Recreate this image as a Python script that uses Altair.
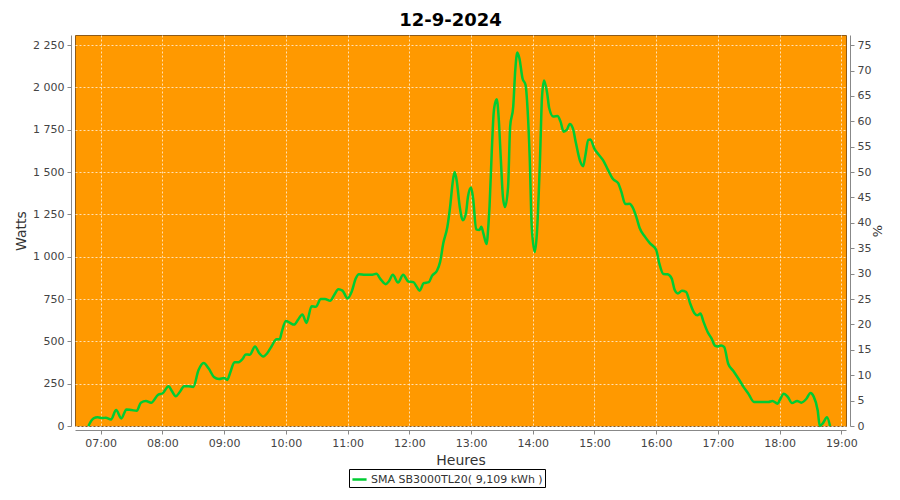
import altair as alt
import pandas as pd

# ---- data ----
times = [
    "06:48", "06:53", "06:57", "07:02", "07:05", "07:10", "07:15", "07:20", "07:25", "07:30",
    "07:35", "07:39", "07:44", "07:49", "07:56", "08:00", "08:06", "08:09", "08:13", "08:17",
    "08:21", "08:25", "08:30", "08:35", "08:40", "08:45", "08:50", "08:55", "09:00", "09:03",
    "09:06", "09:10", "09:14", "09:18", "09:21", "09:25", "09:30", "09:34", "09:38", "09:42",
    "09:46", "09:51", "09:54", "09:56", "10:00", "10:04", "10:08", "10:12", "10:16", "10:20",
    "10:25", "10:29", "10:34", "10:38", "10:43", "10:47", "10:51", "10:55", "11:00", "11:04",
    "11:08", "11:11", "11:17", "11:23", "11:28", "11:32", "11:37", "11:40", "11:44", "11:49",
    "11:54", "11:59", "12:04", "12:07", "12:10", "12:14", "12:19", "12:22", "12:27", "12:30",
    "12:33", "12:37", "12:40", "12:42", "12:44", "12:46", "12:49", "12:52", "12:55", "12:57",
    "13:00", "13:02", "13:05", "13:08", "13:10", "13:12", "13:15", "13:17", "13:18", "13:20",
    "13:22", "13:24", "13:25", "13:27", "13:29", "13:31", "13:33", "13:36", "13:38", "13:41",
    "13:43", "13:45", "13:47", "13:50", "13:53", "13:55", "13:57", "13:59", "14:02", "14:04",
    "14:07", "14:09", "14:11", "14:14", "14:16", "14:20", "14:24", "14:27", "14:30", "14:33",
    "14:36", "14:39", "14:42", "14:46", "14:49", "14:51", "14:54", "14:56", "15:00", "15:04",
    "15:09", "15:13", "15:18", "15:23", "15:26", "15:30", "15:34", "15:37", "15:41", "15:44",
    "15:49", "15:54", "16:00", "16:03", "16:07", "16:11", "16:15", "16:18", "16:21", "16:25",
    "16:29", "16:33", "16:37", "16:40", "16:43", "16:46", "16:50", "16:54", "16:57", "17:00",
    "17:03", "17:06", "17:10", "17:15", "17:20", "17:25", "17:30", "17:35", "17:40", "17:44",
    "17:49", "17:53", "17:58", "18:00", "18:04", "18:08", "18:12", "18:17", "18:21", "18:26",
    "18:30", "18:33", "18:37", "18:39", "18:42", "18:46", "18:49",
]
watts = [
    0, 45, 51, 47, 49, 39, 94, 45, 98, 94,
    90, 137, 147, 137, 186, 192, 235, 208, 176, 202,
    235, 235, 231, 329, 372, 339, 290, 278, 284, 272,
    317, 377, 377, 397, 423, 421, 470, 431, 411, 431,
    470, 512, 512, 556, 621, 609, 599, 629, 659, 609,
    708, 704, 750, 750, 740, 774, 808, 800, 754, 794,
    873, 897, 893, 893, 899, 868, 838, 854, 893, 848,
    893, 854, 850, 824, 799, 844, 850, 887, 919, 971,
    1079, 1177, 1314, 1432, 1500, 1452, 1295, 1216, 1256, 1354,
    1409, 1344, 1162, 1158, 1177, 1138, 1075, 1197, 1300, 1600,
    1850, 1920, 1930, 1808, 1571, 1354, 1294, 1413, 1768, 1887,
    2104, 2207, 2173, 2055, 2015, 1867, 1591, 1176, 1028, 1136,
    1571, 1946, 2041, 1966, 1877, 1828, 1831, 1798, 1739, 1749,
    1784, 1758, 1670, 1565, 1535, 1594, 1690, 1693, 1637, 1604,
    1564, 1515, 1459, 1435, 1386, 1311, 1313, 1293, 1228, 1168,
    1119, 1079, 1040, 961, 898, 896, 872, 803, 783, 799,
    793, 724, 668, 654, 664, 615, 555, 515, 475, 470,
    476, 467, 368, 325, 279, 230, 187, 142, 142, 142,
    142, 148, 132, 152, 191, 171, 136, 148, 138, 161,
    195, 175, 92, 0, 16, 51, 0,
]
series_name = "SMA SB3000TL20( 9,109 kWh )"
nominal_watts = 3000
chart_title = "12-9-2024"

x_ticks_min = [h * 60 for h in range(7, 20)]
w_ticks = list(range(0, 2251, 250))
pct_ticks = list(range(0, 76, 5))


def to_minutes(t):
    h, m = t.split(":")
    return int(h) * 60 + int(m)


df = pd.DataFrame({"t": [to_minutes(t) for t in times], "w": watts})
df["pct"] = df["w"] / nominal_watts * 100
df["serie"] = series_name

FONT = "DejaVu Sans"
LABEL_COLOR = "#444444"
AXIS_COLOR = "#888888"

x_scale = alt.Scale(domain=[395, 1144.5], nice=False, zero=False)

x_axis = alt.Axis(
    values=x_ticks_min,
    labelExpr="(floor(datum.value/60) < 10 ? '0' : '') + floor(datum.value/60) + ':00'",
    title="Heures",
    grid=True,
    gridColor="white",
    gridDash=[2, 2],
    gridOpacity=0.7,
    offset=4,
    domainColor=AXIS_COLOR,
    tickColor=AXIS_COLOR,
    tickSize=4,
    labelFont=FONT,
    labelFontSize=11,
    labelColor=LABEL_COLOR,
    labelPadding=3,
    titleFont=FONT,
    titleFontSize=14,
    titleFontWeight="normal",
    titleColor="#333333",
    titlePadding=5,
)

left_axis = alt.Axis(
    values=w_ticks,
    labelExpr="replace(format(datum.value, ','), ',', ' ')",
    title="Watts",
    grid=True,
    gridColor="white",
    gridDash=[2, 2],
    gridOpacity=0.7,
    offset=4,
    domainColor=AXIS_COLOR,
    tickColor=AXIS_COLOR,
    tickSize=4,
    labelFont=FONT,
    labelFontSize=11,
    labelColor=LABEL_COLOR,
    labelPadding=3,
    titleFont=FONT,
    titleFontSize=14,
    titleFontWeight="normal",
    titleColor="#333333",
    titlePadding=4,
)

right_axis = alt.Axis(
    values=pct_ticks,
    orient="right",
    title="%",
    grid=False,
    offset=4,
    domainColor=AXIS_COLOR,
    tickColor=AXIS_COLOR,
    tickSize=4,
    labelFont=FONT,
    labelFontSize=11,
    labelColor=LABEL_COLOR,
    labelPadding=3,
    titleFont=FONT,
    titleFontSize=13,
    titleFontWeight="normal",
    titleColor="#333333",
    titleAngle=270,
    titlePadding=14,
)

x_enc = alt.X("t:Q", scale=x_scale, axis=x_axis)

line = alt.Chart(df).mark_line(interpolate="monotone", strokeWidth=2.5).encode(
    x=x_enc,
    y=alt.Y("w:Q", scale=alt.Scale(domain=[0, 2310], nice=False), axis=left_axis),
    color=alt.Color(
        "serie:N",
        scale=alt.Scale(range=["#00cc33"]),
        legend=alt.Legend(
            title=None,
            orient="none",
            legendX=274,
            legendY=434,
            strokeColor="black",
            fillColor="white",
            padding=2,
            symbolType="stroke",
            symbolStrokeWidth=2.5,
            symbolSize=200,
            labelFont=FONT,
            labelFontSize=11,
            labelColor="#333333",
            labelLimit=0,
            labelOffset=3,
        ),
    ),
)

pct_layer = alt.Chart(df).mark_line(opacity=0).encode(
    x=x_enc,
    y=alt.Y("pct:Q", scale=alt.Scale(domain=[0, 77], nice=False), axis=right_axis),
)

chart = (
    alt.layer(line, pct_layer)
    .resolve_scale(y="independent")
    .properties(
        width=771,
        height=391,
        title=alt.TitleParams(
            chart_title,
            font=FONT,
            fontSize=18,
            fontWeight="bold",
            color="black",
            anchor="middle",
            dx=-10,
            offset=5,
        ),
        autosize=alt.AutoSizeParams(type="none"),
        padding={"left": 67, "top": 27, "right": 46, "bottom": 66},
        background="white",
    )
    .configure_view(fill="#ff9900", stroke="#8c5a1a", strokeWidth=1)
)

chart.save("out.html", embed_options={"renderer": "svg", "actions": False})
